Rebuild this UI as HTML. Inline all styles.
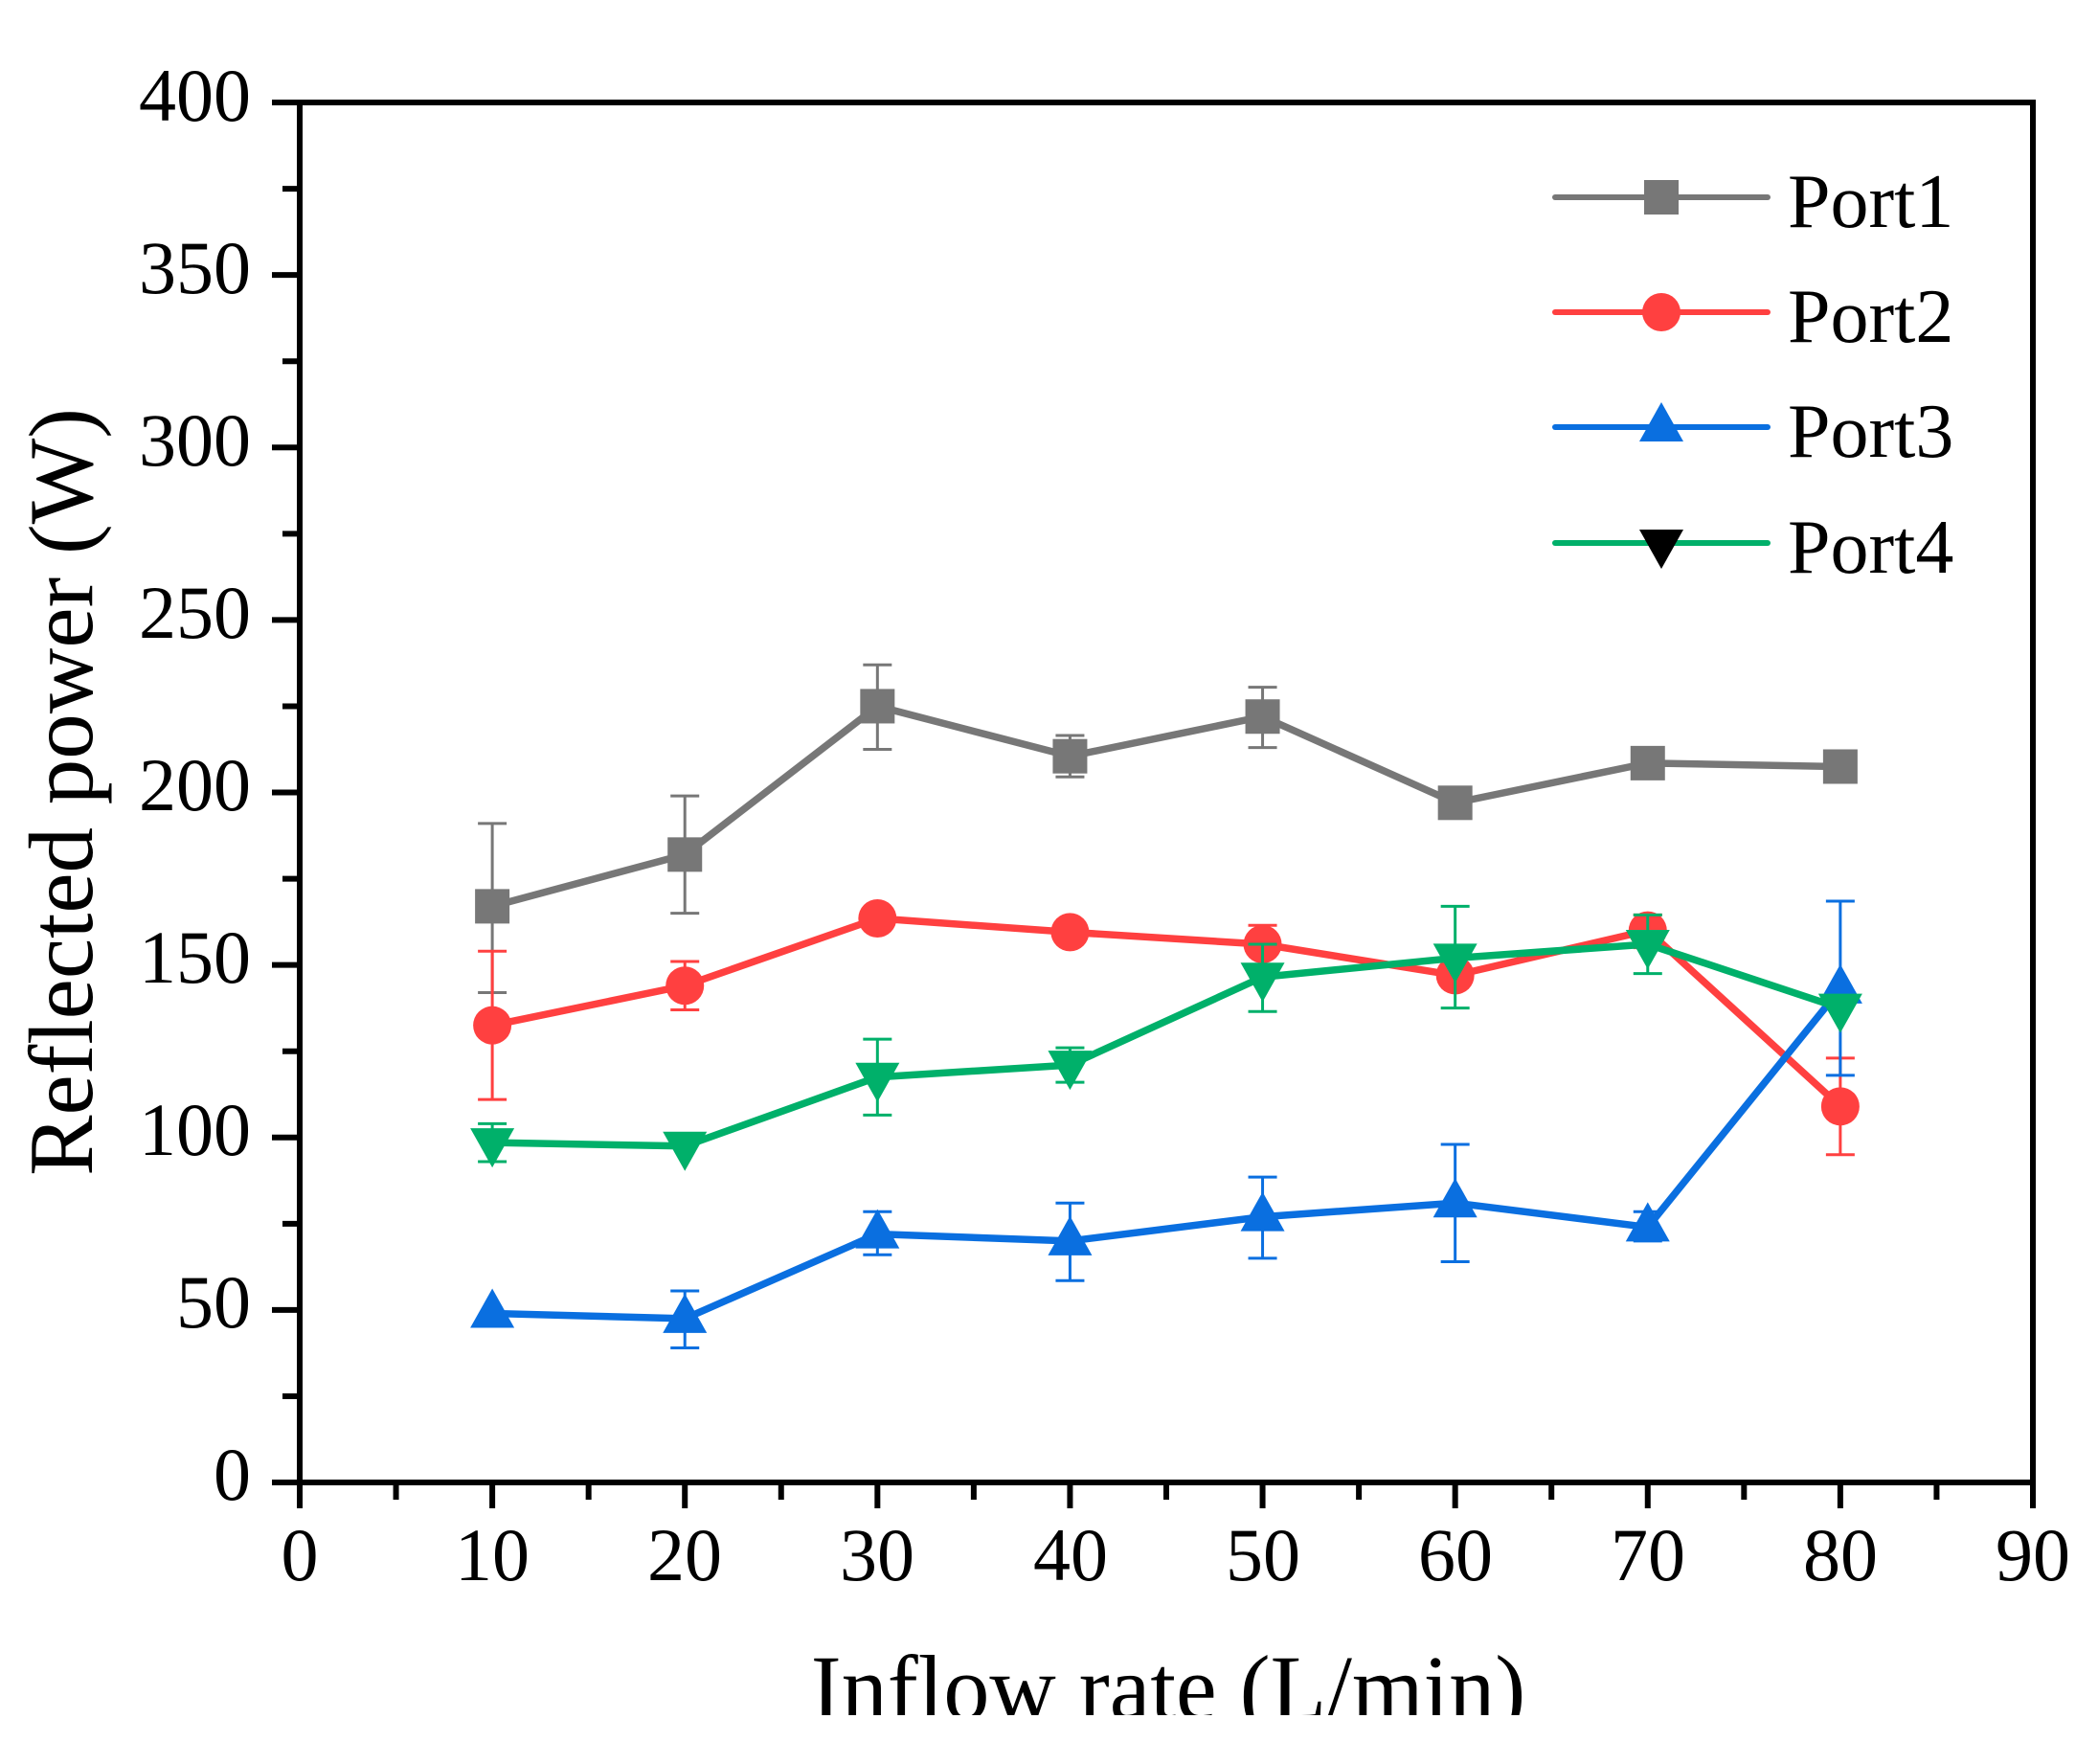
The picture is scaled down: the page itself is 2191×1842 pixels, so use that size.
<!DOCTYPE html>
<html><head><meta charset="utf-8"><style>
html,body{margin:0;padding:0;background:#fff;}
svg{display:block;}
text{font-family:"Liberation Serif",serif;fill:#000;}
</style></head><body>
<svg id="s" width="2191" height="1842" viewBox="0 0 2191 1842" xmlns="http://www.w3.org/2000/svg">
<rect width="2191" height="1842" fill="#fff"/>
<g id="data"></g>
<rect x="313" y="107" width="1810" height="1441" fill="none" stroke="#000" stroke-width="6"/>
<g id="ticks" stroke="#000" stroke-width="6"></g>
<g font-size="78" text-anchor="end">
<text x="262" y="1566">0</text>
<text x="262" y="1386">50</text>
<text x="262" y="1206">100</text>
<text x="262" y="1026">150</text>
<text x="262" y="846">200</text>
<text x="262" y="666">250</text>
<text x="262" y="486">300</text>
<text x="262" y="306">350</text>
<text x="262" y="126">400</text>
</g>
<g font-size="78" text-anchor="middle">
<text x="313" y="1650">0</text>
<text x="514" y="1650">10</text>
<text x="715" y="1650">20</text>
<text x="916" y="1650">30</text>
<text x="1118" y="1650">40</text>
<text x="1319" y="1650">50</text>
<text x="1520" y="1650">60</text>
<text x="1721" y="1650">70</text>
<text x="1922" y="1650">80</text>
<text x="2123" y="1650">90</text>
</g>
<text x="1220" y="1795" font-size="96" text-anchor="middle">Inflow rate (L/min)</text>
<rect x="0" y="1791" width="2191" height="51" fill="#fff"/>
<text transform="translate(96,827) rotate(-90)" font-size="95" text-anchor="middle">Reflected power (W)</text>
<g stroke-width="6" stroke-linecap="round">
<line x1="1624" y1="206" x2="1846" y2="206" stroke="#777"/>
<line x1="1624" y1="326" x2="1846" y2="326" stroke="#ff4040"/>
<line x1="1624" y1="446" x2="1846" y2="446" stroke="#0a6fe0"/>
<line x1="1624" y1="567" x2="1846" y2="567" stroke="#00b06a"/>
</g>
<rect x="1717" y="188" width="36" height="36" fill="#777"/>
<circle cx="1735" cy="326" r="20" fill="#ff4040"/>
<polygon points="1735,420 1758,461 1712,461" fill="#0a6fe0"/>
<polygon points="1712,553 1758,553 1735,594" fill="#000"/>
<g font-size="80">
<text x="1867" y="237">Port1</text>
<text x="1867" y="357">Port2</text>
<text x="1867" y="477">Port3</text>
<text x="1867" y="598">Port4</text>
</g>
</svg>
<script>
var NS="http://www.w3.org/2000/svg";
function X(v){return 313+v*20.111;}
function Y(v){return 1548-v*3.6025;}
function el(p,t,a){var e=document.createElementNS(NS,t);for(var k in a)e.setAttribute(k,a[k]);p.appendChild(e);return e;}
var tk=document.getElementById('ticks');
for(var i=0;i<=90;i+=5){var maj=i%10==0;el(tk,'line',{x1:X(i),y1:1548,x2:X(i),y2:1548+(maj?27:18)});}
for(var v=0;v<=400;v+=25){var maj=v%50==0;el(tk,'line',{x1:313,y1:Y(v),x2:313-(maj?29:18),y2:Y(v)});}
var xs=[10,20,30,40,50,60,70,80];
var S=[
{c:'#777',m:'sq',y:[167,182,225,210.5,222,197,208.5,207.5],e:[[142,191],[165,199],[212.5,237],[204.5,216.5],[213,230.5],null,null,null]},
{c:'#ff4040',m:'ci',y:[132.5,144,163.5,159.5,156,147,160,109],e:[[111,154],[137,151],null,null,[150,161.5],null,[155,164.5],[95,123]]},
{c:'#0a6fe0',m:'up',y:[49,47.5,72,70,77,81,74,143],e:[null,[39,55.5],[66,78.5],[58.5,81],[65,88.5],[64,98],[70,78.5],[118,168.5]]},
{c:'#00b06a',m:'dn',y:[98.5,97.5,117.5,121,146.5,152,156,137.5],e:[[93,104],null,[106.5,128.5],[116,126],[136.5,156],[137.5,167],[147.5,164.5],null]}
];
var g=document.getElementById('data');
S.forEach(function(s){
 var pts=xs.map(function(x,i){return X(x)+','+Y(s.y[i]);}).join(' ');
 s.e.forEach(function(e,i){if(!e)return;var x=X(xs[i]);
  el(g,'line',{x1:x,y1:Y(e[0]),x2:x,y2:Y(e[1]),stroke:s.c,'stroke-width':3});
  el(g,'line',{x1:x-15,y1:Y(e[0]),x2:x+15,y2:Y(e[0]),stroke:s.c,'stroke-width':3});
  el(g,'line',{x1:x-15,y1:Y(e[1]),x2:x+15,y2:Y(e[1]),stroke:s.c,'stroke-width':3});});
 el(g,'polyline',{points:pts,fill:'none',stroke:s.c,'stroke-width':7.5,'stroke-linejoin':'round'});
 xs.forEach(function(x,i){var cx=X(x),cy=Y(s.y[i]);
  if(s.m=='sq')el(g,'rect',{x:cx-18,y:cy-18,width:36,height:36,fill:s.c});
  else if(s.m=='ci')el(g,'circle',{cx:cx,cy:cy,r:20,fill:s.c});
  else if(s.m=='up')el(g,'polygon',{points:(cx)+','+(cy-26)+' '+(cx+23)+','+(cy+15)+' '+(cx-23)+','+(cy+15),fill:s.c});
  else el(g,'polygon',{points:(cx-23)+','+(cy-15)+' '+(cx+23)+','+(cy-15)+' '+cx+','+(cy+26),fill:s.c});
 });
});
</script>
</body></html>
